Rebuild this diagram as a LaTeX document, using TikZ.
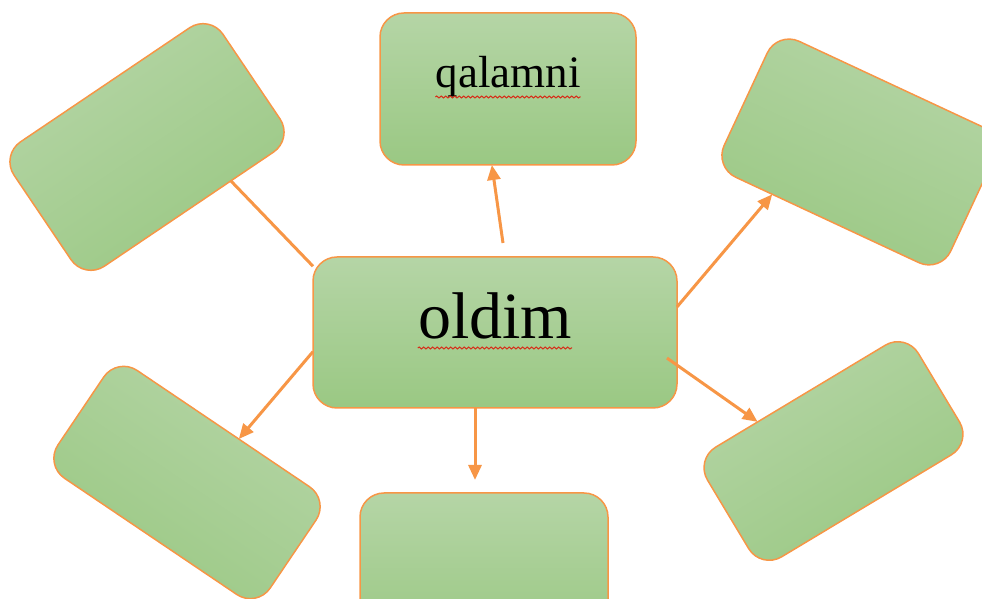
\documentclass[tikz,border=0pt]{standalone}
\usepackage{fontspec}
\setmainfont{Liberation Serif}
\usepackage{tikz}
\usetikzlibrary{arrows.meta,decorations.pathmorphing}
\usepackage{xcolor}
\definecolor{myorange}{RGB}{247,150,70}
\definecolor{mygreenlight}{RGB}{181,213,166}
\definecolor{mygreendark}{RGB}{154,200,131}
\definecolor{myred}{RGB}{215,45,25}
\tikzset{
  >=latex,
  box/.style={draw=myorange,line width=1.5pt,rounded corners=24pt,top color=mygreenlight,bottom color=mygreendark,inner sep=0pt,outer sep=0pt},
  hub box/.style={box,minimum width=364pt,minimum height=151pt},
  leaf box/.style={box,minimum width=250pt,minimum height=150pt},
  link/.style={myorange,line width=3pt},
  link arrow/.style={link,-{Triangle[length=15pt,width=13pt]}}
}

\begin{document}
\begin{tikzpicture}[x=1pt, y=1pt]

% Styles
\tikzstyle{word} = [inner sep=0pt, anchor=base, font=\fontsize{45}{54}\selectfont]
\tikzstyle{word big} = [word, font=\fontsize{66}{78}\selectfont]
\tikzstyle{squiggle} = [draw=myred, line width=1pt, decorate, decoration={snake, amplitude=1pt, segment length=4.5pt}]

\useasboundingbox (0,0) rectangle (982,599);

% Bloc central
\node[hub box] (hub) at (495,266.5) {};

% Blocs autour
\foreach \n/\x/\y/\a/\w/\h in {top/508/510/0/256/152, tl/147/452/34/252/150,
    tr/859/447/-25/250/150, br/833.5/148/31/246/128,
    bl/187/116.5/-34/256/130, bt/484/31/0/248/150}
  \node[leaf box, shading angle=\a, minimum width=\w pt, minimum height=\h pt, rotate=\a] (\n) at (\x,\y) {};

% Connexions
\draw[link arrow] ([xshift=8pt,yshift=14pt]hub.north) -- (top.258);
\draw[link] (hub.160) -- (tl.-56);
\draw[link arrow] (hub.8) -- (tr.231);
\draw[link arrow] ([xshift=-10pt]hub.-8) -- (br.128);
\draw[link arrow] ([xshift=-20pt]hub.south) -- ([xshift=-9pt,yshift=13pt]bt.north);
\draw[link arrow] (hub.186) -- (bl.74);

% Textes
\node[word big] (w-hub) at ([yshift=-6.5pt]hub.center) {oldim};
\node[word] (w-top) at ([yshift=1pt]top.center) {qalamni};
\draw[squiggle] ([yshift=-9pt]w-hub.base west) -- ([yshift=-9pt]w-hub.base east);
\draw[squiggle] ([yshift=-9pt]w-top.base west) -- ([yshift=-9pt]w-top.base east);

\end{tikzpicture}
\end{document}
